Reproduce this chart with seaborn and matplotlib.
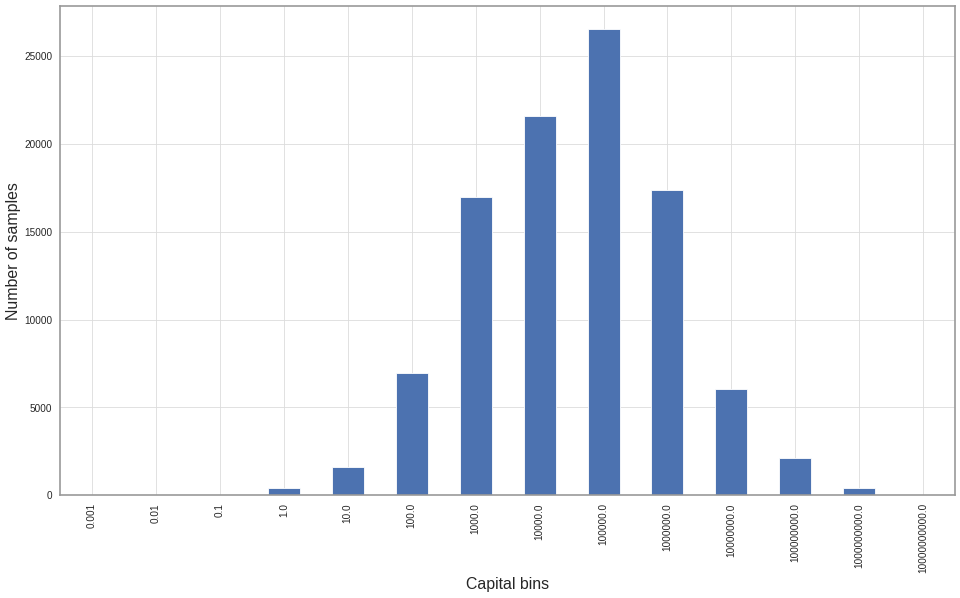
import pandas as pd
import matplotlib
matplotlib.use('Agg')
import matplotlib.pyplot as plt
import seaborn as sns

# --- DATA ---
bins = ['0.001', '0.01', '0.1', '1.0', '10.0', '100.0', '1000.0', '10000.0',
        '100000.0', '1000000.0', '10000000.0', '100000000.0',
        '1000000000.0', '10000000000.0']
counts = [0, 0, 0, 420, 1600, 6980, 17000, 21600,
          26550, 17400, 6050, 2100, 420, 0]

df = pd.DataFrame({'bin': bins, 'count': counts})

sns.set_theme(style='whitegrid')
plt.rcParams['font.family'] = ['Liberation Sans', 'DejaVu Sans']

fig, ax = plt.subplots(figsize=(16, 9.97), dpi=60)
sns.barplot(data=df, x='bin', y='count', color='#4C72B0', saturation=1,
            width=0.5, order=bins, ax=ax)

ax.set_xlim(-0.5, len(bins) - 0.5)
ax.set_ylim(0, max(counts) * 1.05)
ax.set_xticks(range(len(bins)))
ax.set_xticklabels(bins, rotation=90)
ax.tick_params(axis='both', labelsize=12, colors='#262626')
ax.set_xlabel('Capital bins', fontsize=19, color='#262626')
ax.set_ylabel('Number of samples', fontsize=19, color='#262626')
ax.grid(True, color='#dcdcdc', linewidth=1)
ax.set_axisbelow(True)
for s in ax.spines.values():
    s.set_color('#999999')
    s.set_linewidth(2)

fig.subplots_adjust(left=0.0625, right=0.995, top=0.99, bottom=0.172)
fig.savefig('out.png', dpi=60)
